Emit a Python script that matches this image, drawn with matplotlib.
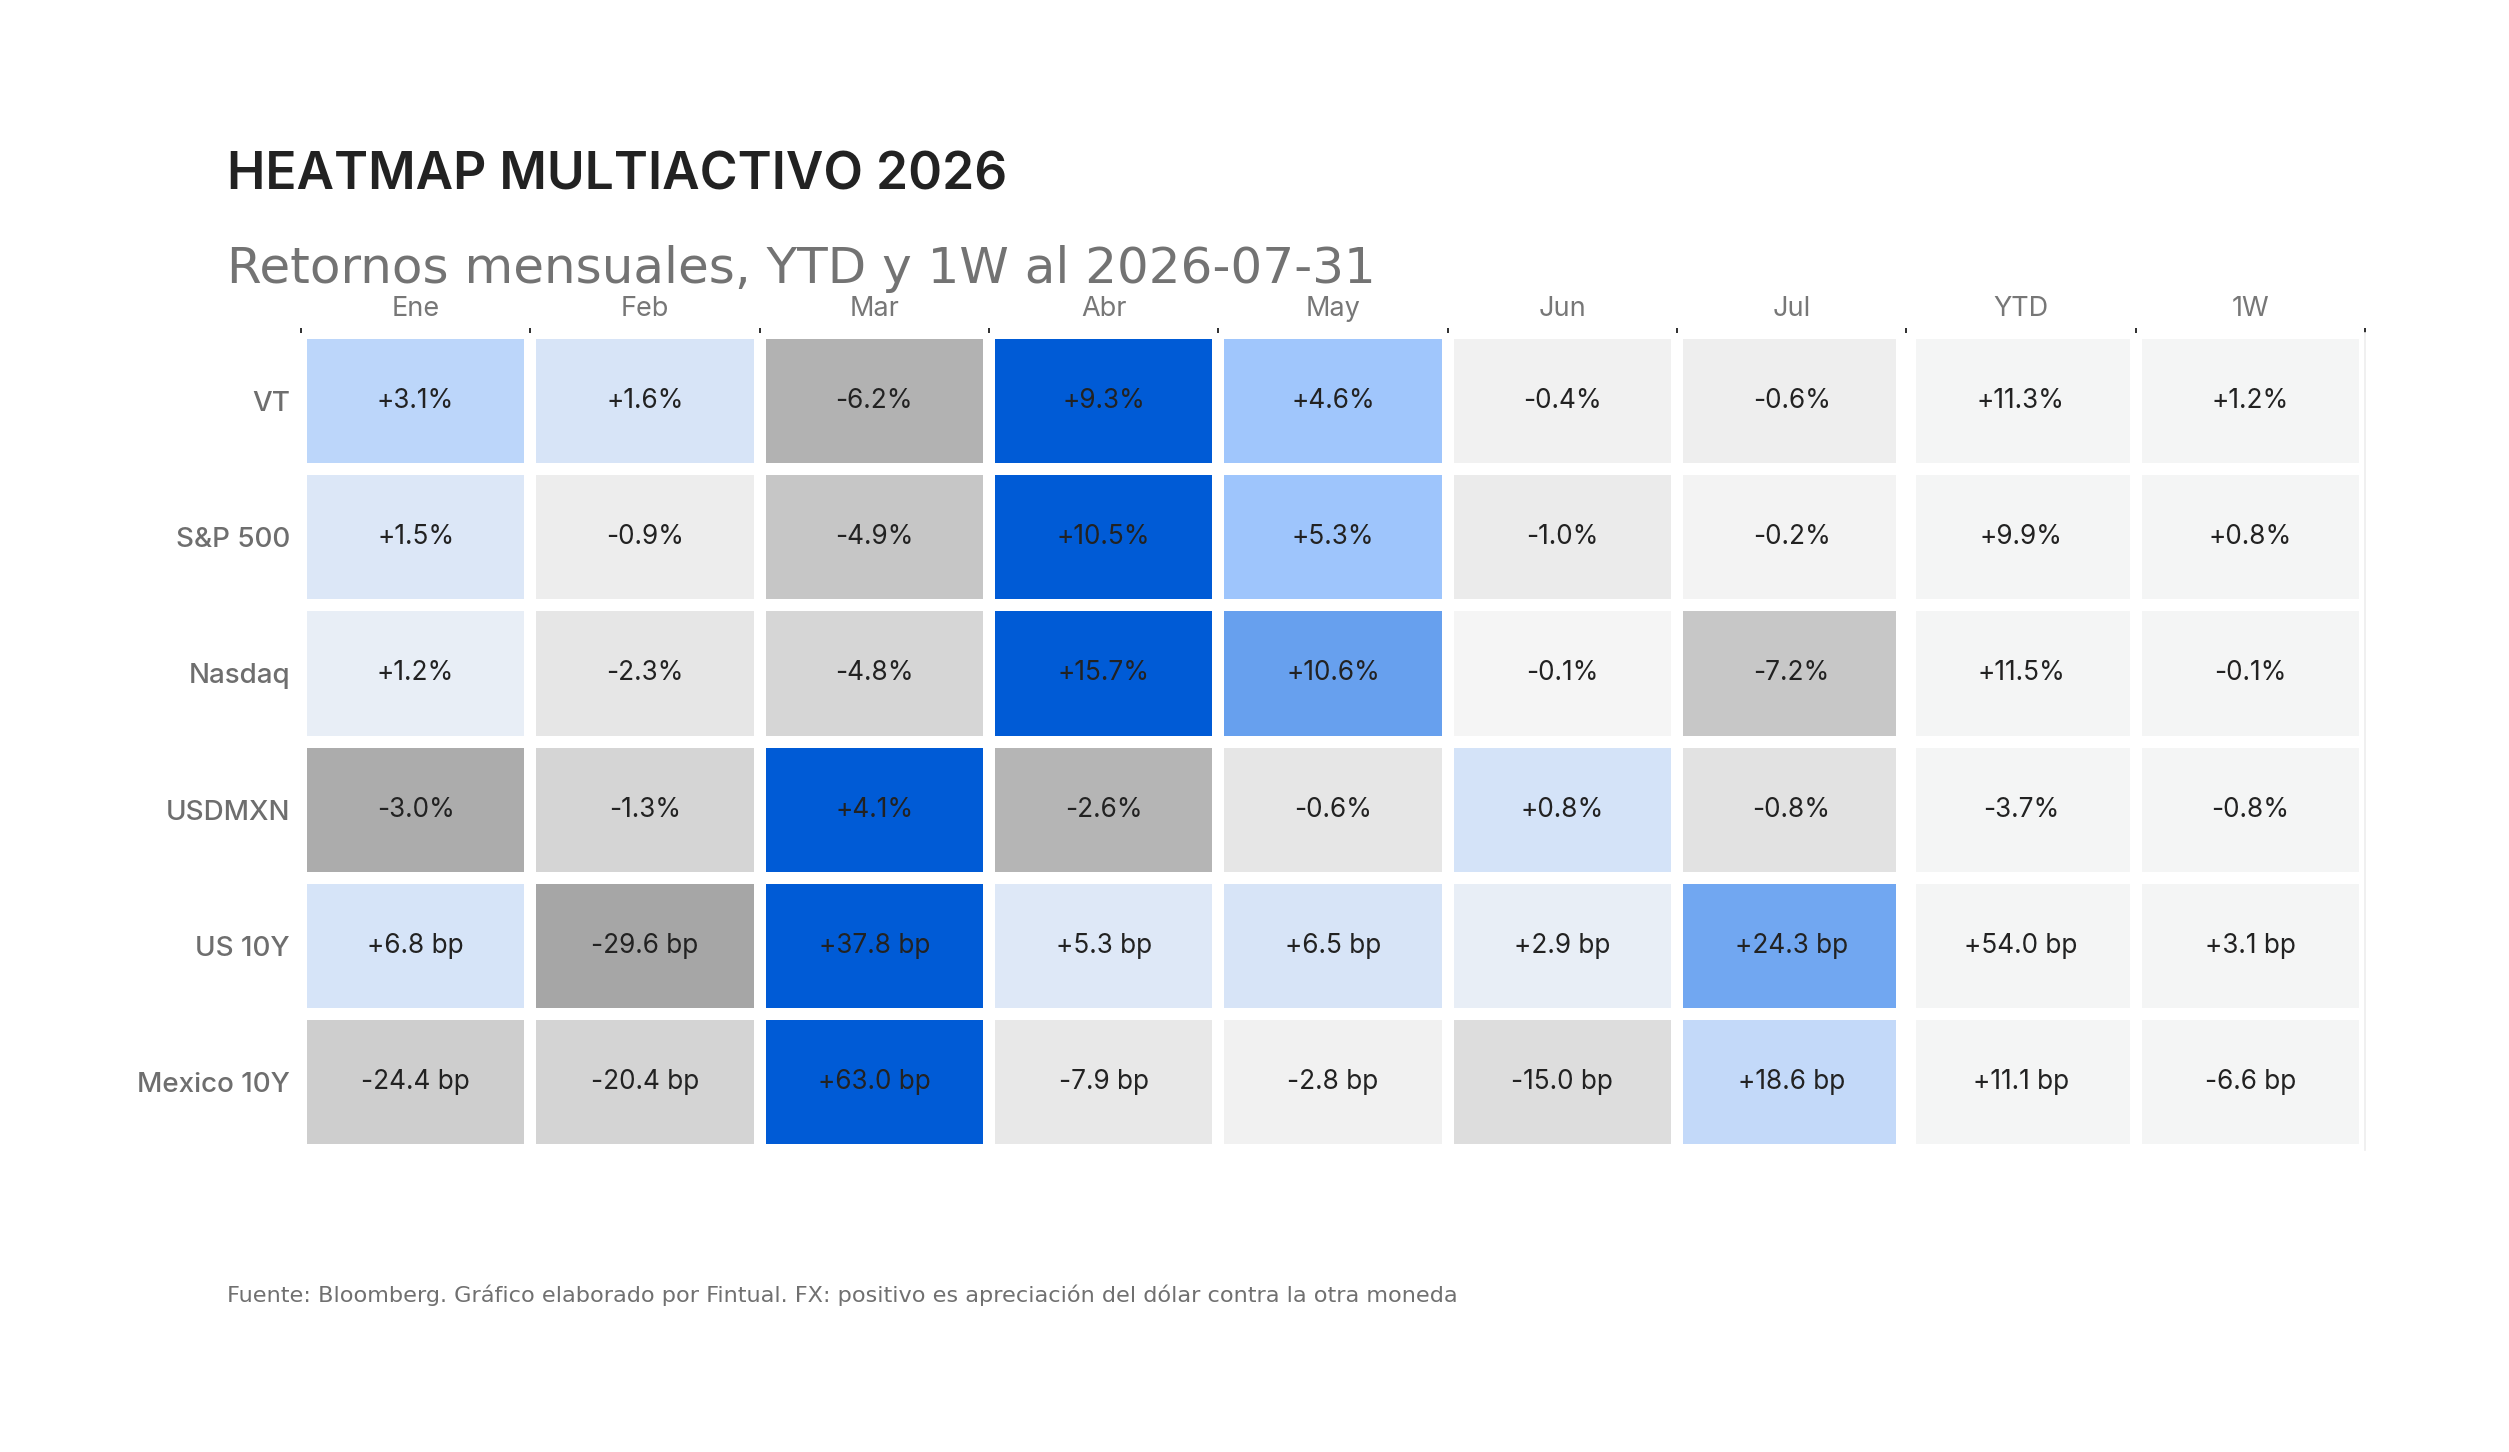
import numpy as np
import matplotlib
matplotlib.use("Agg")
import matplotlib.pyplot as plt
from matplotlib.colors import LinearSegmentedColormap, Normalize

# ---------------- data ----------------
assets = ["VT", "S&P 500", "Nasdaq", "USDMXN", "US 10Y", "Mexico 10Y"]
columns = ["Ene", "Feb", "Mar", "Abr", "May", "Jun", "Jul", "YTD", "1W"]
units = ["%", "%", "%", "%", " bp", " bp"]

vt      = [3.1, 1.6, -6.2, 9.3, 4.6, -0.4, -0.6, 11.3, 1.2]
spx     = [1.5, -0.9, -4.9, 10.5, 5.3, -1.0, -0.2, 9.9, 0.8]
nasdaq  = [1.2, -2.3, -4.8, 15.7, 10.6, -0.1, -7.2, 11.5, -0.1]
usdmxn  = [-3.0, -1.3, 4.1, -2.6, -0.6, 0.8, -0.8, -3.7, -0.8]
us10y   = [6.8, -29.6, 37.8, 5.3, 6.5, 2.9, 24.3, 54.0, 3.1]
mex10y  = [-24.4, -20.4, 63.0, -7.9, -2.8, -15.0, 18.6, 11.1, -6.6]

title = "HEATMAP MULTIACTIVO 2026"
subtitle = "Retornos mensuales, YTD y 1W al 2026-07-31"
footnote = ("Fuente: Bloomberg. Gráfico elaborado por Fintual. "
            "FX: positivo es apreciación del dólar contra la otra moneda")

n_months = 7
# ---------------------------------------

values = np.array([vt, spx, nasdaq, usdmxn, us10y, mex10y])
nrows, ncols = values.shape

cmap = LinearSegmentedColormap.from_list(
    "fintual", [(0.0, "#919191"), (0.5, "#F5F5F5"), (0.75, "#A0C6FC"), (1.0, "#005BD6")])

rgba = np.zeros((nrows, ncols, 4))
for i in range(nrows):
    m = np.max(np.abs(values[i, :n_months]))
    norm = Normalize(-m, m)
    rgba[i, :n_months] = cmap(norm(values[i, :n_months]))
    rgba[i, n_months:] = cmap(0.5)

W, H = 2509, 1452
DPI = 160
fig = plt.figure(figsize=(W / DPI, H / DPI), dpi=DPI)
fig.patch.set_facecolor("white")

ax = fig.add_axes([301 / W, 1 - 1150 / H, (2365 - 301) / W, (1150 - 333) / H])
ax.pcolormesh(np.arange(ncols + 1), np.arange(nrows + 1), rgba,
              edgecolors="white", linewidth=4.6, shading="flat")
ax.axvline(n_months, color="white", lw=9, zorder=3)
ax.set_xlim(0, ncols)
ax.set_ylim(nrows, 0)

pfont = ["Inter", "DejaVu Sans"]

for i in range(nrows):
    for j in range(ncols):
        ax.text(j + 0.5, i + 0.5, f"{values[i, j]:+.1f}{units[i]}",
                ha="center", va="center", fontsize=11.8, color="#222222",
                family=pfont, zorder=4)

for s in ["left", "bottom", "top"]:
    ax.spines[s].set_visible(False)
ax.spines["right"].set_color("#EFEFEF")
ax.spines["right"].set_linewidth(0.8)

ax.xaxis.tick_top()
ax.set_xticks(np.arange(ncols + 1))
ax.set_xticklabels([])
ax.tick_params(axis="x", which="major", length=2.3, width=0.9, color="#333333", top=True, bottom=False)
ax.set_xticks(np.arange(ncols) + 0.5, minor=True)
ax.set_xticklabels(columns, minor=True, family=pfont, fontsize=12.2, color="#777777")
ax.tick_params(axis="x", which="minor", length=0, pad=5, top=True, bottom=False)

ax.set_yticks(np.arange(nrows) + 0.5)
ax.set_yticklabels(assets, family=pfont, fontsize=12.5, color="#6E6E6E", fontweight="medium")
ax.tick_params(axis="y", length=0, pad=5)
ax.set_yticks([], minor=True)

fig.text(227 / W, 1 - 189 / H, title, family=pfont, fontsize=23.2, fontweight="semibold",
         color="#222222", va="baseline", ha="left")
fig.text(227 / W, 1 - 283 / H, subtitle, family="DejaVu Sans", fontsize=22.5,
         color="#737373", va="baseline", ha="left")
fig.text(227 / W, 1 - 1302 / H, footnote, family="DejaVu Sans", fontsize=10.1,
         color="#707070", va="baseline", ha="left")

fig.savefig("out.png", dpi=DPI, facecolor="white")
